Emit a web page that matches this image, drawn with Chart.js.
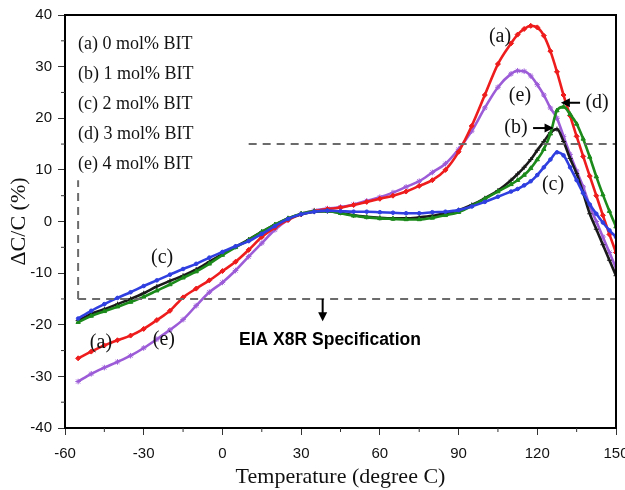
<!DOCTYPE html>
<html>
<head>
<meta charset="utf-8">
<script src="https://cdn.jsdelivr.net/npm/chart.js@4.4.1/dist/chart.umd.min.js"></script>
<style>
  html, body { margin: 0; padding: 0; background: #fff; }
  #wrap { width: 625px; height: 490px; }
</style>
</head>
<body>
<div id="wrap"><canvas id="chart" width="625" height="490"></canvas></div>
<script>
// temperature points (degree C)
var temps = [-55,-50,-45,-40,-35,-30,-25,-20,-15,-10,-5,0,5,10,15,20,25,30,35,40,45,50,55,60,65,70,75,80,85,90,95,100,105,110,
             112.5,115,117.5,120,122.5,125,127.5,130,132.5,135,137.5,140,142.5,145,147.5,150];

// delta C / C (%) for each BIT content
var bit0 = [-26.5,-25.2,-24.0,-23.0,-22.1,-20.8,-19.1,-17.3,-14.7,-13.0,-11.4,-9.6,-7.8,-5.5,-3.0,-1.2,0.3,1.4,2.0,2.4,2.7,3.2,3.8,4.4,5.0,5.8,6.9,8.0,10.0,13.5,18.5,24.5,30.5,34.5,
            36.2,37.3,37.9,37.6,36.0,33.0,29.0,24.5,20.5,16.5,12.6,8.8,5.0,1.2,-2.5,-6.0];
var bit1 = [-19.2,-17.9,-17.0,-16.0,-15.0,-13.9,-12.6,-11.5,-10.5,-9.3,-7.8,-6.3,-4.9,-3.5,-2.0,-0.6,0.6,1.4,1.9,2.0,1.7,1.2,0.9,0.7,0.6,0.6,0.8,1.1,1.6,2.2,3.2,4.5,6.0,8.0,
            9.2,10.5,12.0,13.8,15.5,17.2,17.9,15.5,12.2,9.3,5.5,1.5,-1.5,-4.5,-7.5,-10.5];
var bit2 = [-18.8,-17.3,-16.0,-14.8,-13.7,-12.5,-11.4,-10.3,-9.2,-8.2,-7.0,-5.9,-4.8,-3.8,-2.4,-0.9,0.5,1.4,1.9,2.1,2.0,1.9,1.9,1.8,1.7,1.6,1.6,1.8,1.9,2.2,2.9,3.8,4.8,5.8,
            6.3,7.0,7.8,9.0,10.5,12.0,13.4,12.8,10.5,8.0,5.5,3.3,1.5,-0.2,-1.7,-3.0];
var bit3 = [-19.5,-18.3,-17.4,-16.5,-15.6,-14.6,-13.4,-12.2,-10.9,-9.7,-8.2,-6.5,-5.0,-3.6,-2.0,-0.6,0.6,1.5,2.0,2.0,1.6,1.1,0.8,0.6,0.5,0.4,0.4,0.7,1.2,1.8,3.0,4.4,5.8,7.2,
            8.0,9.0,10.3,12.0,14.0,17.0,21.5,22.2,20.8,18.9,16.0,12.5,8.7,5.2,2.0,-1.0];
var bit4 = [-31.0,-29.5,-28.3,-27.2,-26.0,-24.5,-22.8,-21.0,-19.0,-16.3,-13.7,-11.8,-9.5,-6.8,-4.2,-1.6,0.3,1.5,2.1,2.5,2.8,3.3,4.0,4.7,5.6,6.7,7.8,9.5,11.2,14.0,17.5,22.0,26.0,28.6,
            29.2,29.1,28.2,26.5,24.5,22.0,20.0,16.5,13.0,9.8,6.7,3.0,0.0,-3.0,-6.0,-9.0];

var seriesNames = ['(a) 0 mol% BIT', '(b) 1 mol% BIT', '(c) 2 mol% BIT', '(d) 3 mol% BIT', '(e) 4 mol% BIT'];
var xTicks = [-60, -30, 0, 30, 60, 90, 120, 150];
var yTicks = [-40, -30, -20, -10, 0, 10, 20, 30, 40];

// EIA X8R specification box (-55..150 C, +-15 %)
var specX = [-55, 150];
var specLimit = 15;

function pts(ys) {
    var out = [];
    for (var i = 0; i < temps.length; i++) out.push({x: temps[i], y: ys[i]});
    return out;
}

function curve(label, ys, color, style, r) {
    return {
        label: label, data: pts(ys),
        borderColor: color, backgroundColor: color,
        borderWidth: 2.6, pointStyle: style, pointRadius: r, pointBorderWidth: 1,
        cubicInterpolationMode: 'monotone', fill: false
    };
}

function dashed(data) {
    return {
        data: data, borderColor: '#6b6b6b', borderWidth: 2, borderDash: [8, 6],
        pointRadius: 0, fill: false, tension: 0
    };
}

var datasets = [
    dashed([{x: 10, y: specLimit}, {x: specX[1], y: specLimit}]),
    dashed([{x: specX[0], y: -specLimit}, {x: specX[1], y: -specLimit}]),
    dashed([{x: specX[0], y: -specLimit}, {x: specX[0], y: 8}]),
    curve(seriesNames[2], bit2, '#2f3fe0', 'circle', 1.8),
    curve(seriesNames[3], bit3, '#1b8a1b', 'triangle', 2.5),
    curve(seriesNames[1], bit1, '#1a1a1a', 'cross', 2.5),
    curve(seriesNames[0], bit0, '#ee1c1c', 'rectRot', 2.5),
    curve(seriesNames[4], bit4, '#9c5cd8', 'star', 2.8)
];

// text labels in data coordinates
var curveLabels = [
    {t: '(a)', x: 105.8, y: 35.8}, {t: '(e)', x: 113.4, y: 24.3},
    {t: '(b)', x: 111.9, y: 18.1}, {t: '(d)', x: 142.8, y: 23.0},
    {t: '(c)', x: 126.0, y: 7.1},  {t: '(c)', x: -23.0, y: -7.1},
    {t: '(a)', x: -46.3, y: -23.5}, {t: '(e)', x: -22.3, y: -23.0}
];
var arrows = [
    {x1: 118.4, y1: 18.1, x2: 126.2, y2: 18.1},
    {x1: 136.3, y1: 23.0, x2: 129.0, y2: 23.0},
    {x1: 38.2, y1: -15.0, x2: 38.2, y2: -19.3}
];

function arrow(ctx, x1, y1, x2, y2) {
    var a = Math.atan2(y2 - y1, x2 - x1);
    ctx.beginPath();
    ctx.moveTo(x1, y1);
    ctx.lineTo(x2 - 6 * Math.cos(a), y2 - 6 * Math.sin(a));
    ctx.stroke();
    ctx.beginPath();
    ctx.moveTo(x2, y2);
    ctx.lineTo(x2 - 9 * Math.cos(a) + 4.5 * Math.sin(a), y2 - 9 * Math.sin(a) - 4.5 * Math.cos(a));
    ctx.lineTo(x2 - 9 * Math.cos(a) - 4.5 * Math.sin(a), y2 - 9 * Math.sin(a) + 4.5 * Math.cos(a));
    ctx.closePath();
    ctx.fill();
}

var decor = {
    id: 'decor',
    afterDraw: function (chart) {
        var ctx = chart.ctx, a = chart.chartArea;
        var xs = chart.scales.x, ys = chart.scales.y;
        ctx.save();
        // frame
        ctx.strokeStyle = '#000';
        ctx.lineWidth = 2;
        ctx.strokeRect(a.left, a.top, a.right - a.left, a.bottom - a.top);
        // minor ticks
        ctx.lineWidth = 1;
        ctx.strokeStyle = '#333';
        ctx.beginPath();
        for (var v = -35; v < 40; v += 10) {
            var py = ys.getPixelForValue(v);
            ctx.moveTo(a.left - 4, py); ctx.lineTo(a.left, py);
        }
        for (var u = -45; u < 150; u += 30) {
            var px = xs.getPixelForValue(u);
            ctx.moveTo(px, a.bottom); ctx.lineTo(px, a.bottom + 4);
        }
        ctx.stroke();
        // legend block
        ctx.fillStyle = '#111';
        ctx.font = '18px "Liberation Serif", "Times New Roman", serif';
        ctx.textAlign = 'left';
        ctx.textBaseline = 'middle';
        for (var i = 0; i < seriesNames.length; i++) {
            ctx.fillText(seriesNames[i], a.left + 13, a.top + 29 + i * 30);
        }
        // curve labels
        ctx.font = '20px "Liberation Serif", "Times New Roman", serif';
        ctx.textAlign = 'center';
        curveLabels.forEach(function (l) {
            ctx.fillText(l.t, xs.getPixelForValue(l.x), ys.getPixelForValue(l.y));
        });
        // arrows
        ctx.strokeStyle = '#000';
        ctx.fillStyle = '#000';
        ctx.lineWidth = 2;
        arrows.forEach(function (r) {
            arrow(ctx, xs.getPixelForValue(r.x1), ys.getPixelForValue(r.y1),
                  xs.getPixelForValue(r.x2), ys.getPixelForValue(r.y2));
        });
        ctx.font = 'bold 17.5px "Liberation Sans", Arial, sans-serif';
        ctx.fillText('EIA X8R Specification', xs.getPixelForValue(41), ys.getPixelForValue(-23));
        ctx.restore();
    }
};

new Chart(document.getElementById('chart').getContext('2d'), {
    type: 'line',
    data: {datasets: datasets},
    options: {
        responsive: false,
        animation: false,
        layout: {padding: {top: 15, right: 9, left: 0, bottom: 0}},
        plugins: {legend: {display: false}, tooltip: {enabled: false}},
        scales: {
            x: {
                type: 'linear', min: -60, max: 150,
                afterBuildTicks: function (s) { s.ticks = xTicks.map(function (v) { return {value: v}; }); },
                afterFit: function (s) { s.height = 62; s.paddingLeft = 0; s.paddingRight = 0; },
                grid: {drawOnChartArea: false, tickLength: 7, color: '#333'},
                border: {color: '#000', width: 2},
                ticks: {color: '#111', padding: 10, maxRotation: 0,
                        font: {family: '"Liberation Sans", Arial, sans-serif', size: 15}},
                title: {display: true, text: 'Temperature (degree C)', color: '#111',
                        padding: {top: 0, bottom: 0},
                        font: {family: '"Liberation Serif", "Times New Roman", serif', size: 22}}
            },
            y: {
                type: 'linear', min: -40, max: 40,
                afterBuildTicks: function (s) { s.ticks = yTicks.map(function (v) { return {value: v}; }); },
                afterFit: function (s) { s.width = 65; },
                grid: {drawOnChartArea: false, tickLength: 7, color: '#333'},
                border: {color: '#000', width: 2},
                ticks: {color: '#111', padding: 6,
                        font: {family: '"Liberation Sans", Arial, sans-serif', size: 15}},
                title: {display: true, text: 'ΔC/C (%)', color: '#111',
                        padding: {top: 6, bottom: 0},
                        font: {family: '"Liberation Serif", "Times New Roman", serif', size: 22}}
            }
        }
    },
    plugins: [decor]
});
</script>
</body>
</html>
